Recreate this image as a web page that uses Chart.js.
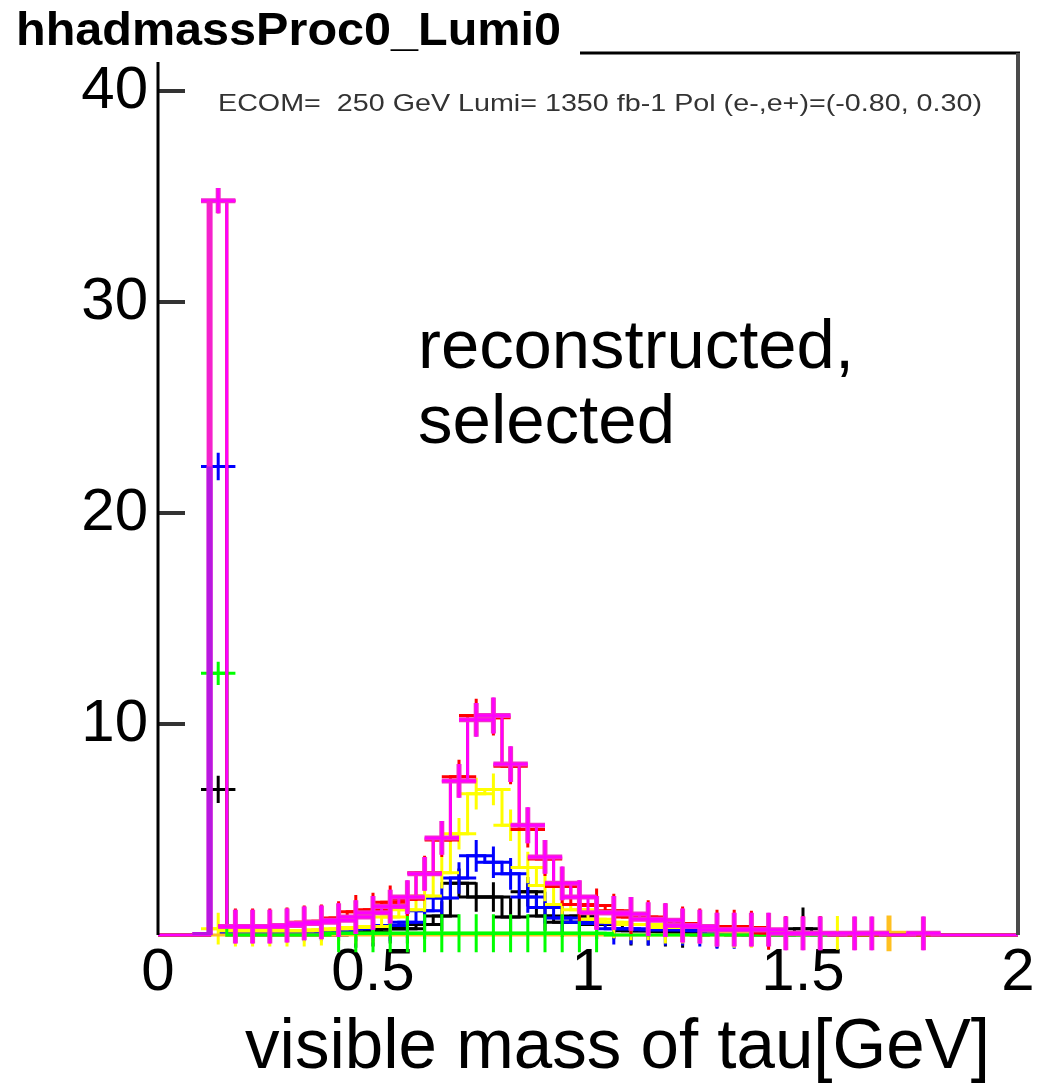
<!DOCTYPE html>
<html><head><meta charset="utf-8">
<script src="https://cdn.jsdelivr.net/npm/chart.js@4"></script>
<style>html,body{margin:0;padding:0;background:#fff}#wrap{position:relative;width:1043px;height:1085px}</style>
</head><body><div id="wrap"><canvas id="c" width="1043" height="1085"></canvas></div>
<script>
// ---------- data ----------
const binCenters = [0.02,0.06,0.10,0.14,0.18,0.22,0.26,0.30,0.34,0.38,
  0.42,0.46,0.50,0.54,0.58,0.62,0.66,0.70,0.74,0.78,
  0.82,0.86,0.90,0.94,0.98,1.02,1.06,1.10,1.14,1.18,
  1.22,1.26,1.30,1.34,1.38,1.42,1.46,1.50,1.54,1.58,
  1.62,1.66,1.70,1.74,1.78,1.82,1.86,1.90,1.94,1.98];
const binWidth = 0.04;
const xTickValues = [0, 0.5, 1, 1.5, 2];
const xTickLabels = ['0', '0.5', '1', '1.5', '2'];
const yTickValues = [10, 20, 30, 40];
const yTickLabels = ['10', '20', '30', '40'];

const magentaVals = [0,0,0,34.8,0.4,0.4,0.4,0.45,0.55,0.6,
  0.7,0.85,1.05,1.35,1.8,2.9,4.6,7.3,10.2,10.4,
  8.1,5.2,3.7,2.45,1.8,1.05,1.05,1.0,0.75,0.7,
  0.45,0.4,0.25,0.25,0.25,0.25,0.08,0.08,0.08,0,
  0.08,0.08,0,0,0.08,0,0,0,0,0];
const magentaErrs = [0,0,0,0.6,0.8,0.8,0.8,0.8,0.8,0.8,
  0.8,0.8,0.8,0.8,0.8,0.8,0.8,0.8,0.8,0.85,
  0.85,0.85,0.8,0.8,0.8,0.8,0.8,0.8,0.8,0.8,
  0.8,0.8,0.8,0.8,0.8,0.8,0.8,0.8,0.8,0,
  0.8,0.8,0,0,0.8,0,0,0,0,0];

const pinkVals = [0,0,0,34.8,0,0,0,0,0,0,
  0,0,0,0,0,0,0,0,0,0,
  0,0,0,0,0,0,0,0,0,0,
  0,0,0,0,0,0,0,0,0,0,
  0,0,0,0,0,0,0,0,0,0];
const violetVals = [0,0,0,22.2,0,0,0,0,0,0,
  0,0,0,0,0,0,0,0,0,0,
  0,0,0,0,0,0,0,0,0,0,
  0,0,0,0,0,0,0,0,0,0,
  0,0,0,0,0,0,0,0,0,0];

const redVals = [0,0,0,34.8,0.45,0.45,0.45,0.5,0.6,0.65,
  0.8,1.1,1.2,1.55,1.7,2.95,4.5,7.5,10.4,10.3,
  8.0,5.0,3.6,2.3,1.45,1.4,1.15,0.85,0.85,0.7,
  0.55,0.45,0.4,0.4,0.35,0.1,0.1,0.1,0.1,0,
  0,0,0,0,0,0,0,0,0,0];
const redErrs = [0,0,0,0.6,0.8,0.8,0.8,0.8,0.8,0.8,
  0.8,0.8,0.8,0.8,0.8,0.8,0.8,0.8,0.8,0.85,
  0.85,0.85,0.8,0.8,0.8,0.8,0.8,0.8,0.8,0.8,
  0.8,0.8,0.8,0.8,0.8,0.8,0.8,0.8,0.8,0,
  0,0,0,0,0,0,0,0,0,0];

const yellowVals = [0,0,0,0.3,0.2,0.2,0.2,0.2,0.2,0.25,
  0.3,0.35,0.4,0.85,1.2,1.85,2.95,4.8,6.7,6.9,
  5.2,3.2,2.35,1.45,1.2,0.75,0.6,0.5,0.5,0.35,
  0.35,0.35,0.2,0.15,0.15,0.1,0.1,0.1,0.1,0.1,
  0,0,0,0,0,0,0,0,0,0];
const yellowErrs = [0,0,0,0.75,0.75,0.75,0.75,0.75,0.75,0.75,
  0.75,0.75,0.75,0.75,0.75,0.75,0.75,0.75,0.75,0.75,
  0.75,0.75,0.75,0.75,0.75,0.75,0.75,0.75,0.75,0.75,
  0.75,0.75,0.75,0.75,0.75,0.75,0.75,0.75,0.75,0.8,
  0,0,0,0,0,0,0,0,0,0];

const blueVals = [0,0,0,22.2,0.1,0.1,0.1,0.1,0.1,0.15,
  0.2,0.3,0.4,0.45,0.6,1.15,1.75,2.7,3.75,3.45,
  2.9,1.8,1.3,0.8,0.6,0.55,0.3,0.3,0.25,0.25,
  0.25,0.2,0.1,0.1,0,0,0,0,0,0,
  0,0,0,0,0,0,0,0,0,0];
const blueErrs = [0,0,0,0.65,0.4,0.4,0.4,0.4,0.4,0.45,
  0.5,0.6,0.7,0.75,0.75,0.75,0.75,0.75,0.75,0.75,
  0.75,0.75,0.75,0.75,0.75,0.75,0.75,0.75,0.75,0.75,
  0.75,0.75,0.75,0.75,0,0,0,0,0,0,
  0,0,0,0,0,0,0,0,0,0];

const blackVals = [0,0,0,6.9,0,0,0,0,0,0,
  0,0.1,0.15,0.3,0.3,0.5,0.9,2.45,1.8,1.8,
  0.85,2.05,0.9,0.6,0.9,0.5,0.5,0.2,0.2,0.15,
  0.1,0,0.1,0,0,0,0,0.3,0,0,
  0,0,0,0,0,0,0,0,0,0];
const blackErrs = [0,0,0,0.65,0,0,0,0,0,0,
  0,0.7,0.7,0.7,0.7,0.7,0.7,0.7,0.7,0.7,
  0.9,0.7,0.7,0.7,0.7,0.7,0.7,0.7,0.7,0.7,
  0.7,0,0.7,0,0,0,0,1.0,0,0,
  0,0,0,0,0,0,0,0,0,0];

const greenVals = [0,0,0,12.4,0,0,0,0,0,0,
  0.08,0.08,0.08,0.08,0.08,0.08,0.08,0.08,0.08,0.08,
  0.08,0.08,0.08,0.08,0.08,0.08,0,0,0,0,
  0,0,0,0,0,0,0,0,0,0,
  0,0,0,0,0,0,0,0,0,0];
const greenErrs = [0,0,0,0.55,0,0,0,0,0,0,
  0.9,0.9,0.9,0.9,0.9,0.9,0.9,0.9,0.9,0.9,
  0.9,0.9,0.9,0.9,0.9,0.9,0,0,0,0,
  0,0,0,0,0,0,0,0,0,0,
  0,0,0,0,0,0,0,0,0,0];

const orangeVals = [0,0,0,0,0,0,0,0,0,0,
  0,0,0,0,0,0,0,0,0,0,
  0,0,0,0,0,0,0,0,0,0,
  0,0,0,0,0,0,0,0,0,0,
  0,0,0.08,0,0,0,0,0,0,0];
const orangeErrs = [0,0,0,0,0,0,0,0,0,0,
  0,0,0,0,0,0,0,0,0,0,
  0,0,0,0,0,0,0,0,0,0,
  0,0,0,0,0,0,0,0,0,0,
  0,0,0.85,0,0,0,0,0,0,0];

// ---------- build ----------
function histPoints(vals) {
  const pts = binCenters.map((c, i) => ({ x: c - binWidth / 2, y: vals[i] }));
  pts.push({ x: binCenters[binCenters.length - 1] + binWidth / 2, y: vals[vals.length - 1] });
  return pts;
}
function histDataset(label, vals, errs, color, lw, errLayers) {
  return {
    label, data: histPoints(vals), vals, errs, errLayers,
    borderColor: color, borderWidth: lw, stepped: 'before', fill: false,
    pointRadius: 0, tension: 0, clip: { left: 0, top: 0, right: 0, bottom: 3 }
  };
}
// rising edges only (thick blended edge of the tall bin)
function edgeDataset(label, vals, color, lw) {
  return {
    label, data: histPoints(vals),
    borderColor: color, borderWidth: lw, stepped: 'before', fill: false,
    pointRadius: 0, tension: 0, borderCapStyle: 'butt',
    segment: { borderColor: c => (c.p1.parsed.y > c.p0.parsed.y ? color : 'rgba(0,0,0,0)') }
  };
}
// index 0 is drawn on top
const datasets = [
  edgeDataset('violet', violetVals, '#b818e0', 6),
  edgeDataset('pink', pinkVals, '#f522cc', 6),
  histDataset('magenta', magentaVals, magentaErrs, '#ff00ff', 3, [['#f22ccb', 5], ['#ff00ff', 2.5]]),
  histDataset('red', redVals, redErrs, '#ff0000', 3, [['#ff0000', 3]]),
  histDataset('green', greenVals, greenErrs, '#00ff00', 3, [['#00ff00', 3]]),
  histDataset('orange', orangeVals, orangeErrs, '#ffc020', 3, [['#ffc020', 5]]),
  histDataset('yellow', yellowVals, yellowErrs, '#ffff00', 3, [['#ffff00', 3]]),
  histDataset('blue', blueVals, blueErrs, '#0000ff', 3, [['#0000ff', 3]]),
  histDataset('black', blackVals, blackErrs, '#000000', 3, [['#000000', 3]])
];

const errPlugin = {
  id: 'errbars',
  afterDatasetDraw(chart, args) {
    const ds = chart.data.datasets[args.index];
    if (!ds.errs) return;
    const xs = chart.scales.x, ys = chart.scales.y, ctx = chart.ctx;
    ctx.save();
    ctx.lineCap = 'butt';
    ds.errLayers.forEach(([col, w]) => {
      ctx.strokeStyle = col; ctx.lineWidth = w;
      ds.vals.forEach((v, i) => {
        const e = ds.errs[i];
        if (!(v > 0) && !(e > 0)) return;
        const cx = xs.getPixelForValue(binCenters[i]);
        const xl = xs.getPixelForValue(binCenters[i] - binWidth);
        const xr = xs.getPixelForValue(binCenters[i] + binWidth);
        const yv = ys.getPixelForValue(v);
        const ylo = ys.getPixelForValue(v - e), yhi = ys.getPixelForValue(v + e);
        ctx.beginPath();
        ctx.moveTo(xl, yv); ctx.lineTo(xr, yv);
        ctx.moveTo(cx, ylo); ctx.lineTo(cx, yhi);
        ctx.stroke();
      });
    });
    ctx.restore();
  }
};

function fitText(ctx, text, x, y, font, targetW, color) {
  ctx.save();
  ctx.font = font;
  ctx.fillStyle = color || '#000';
  ctx.textBaseline = 'alphabetic';
  ctx.textAlign = 'left';
  const w = ctx.measureText(text).width;
  const s = targetW ? targetW / w : 1;
  ctx.translate(x, y);
  ctx.scale(s, 1);
  ctx.fillText(text, 0, 0);
  ctx.restore();
}

const framePlugin = {
  id: 'frame',
  beforeDatasetsDraw(chart) {
    const ctx = chart.ctx, a = chart.chartArea, ys = chart.scales.y;
    ctx.save();
    ctx.strokeStyle = '#333'; ctx.lineWidth = 4;
    yTickValues.forEach(v => {
      const y = ys.getPixelForValue(v);
      ctx.beginPath(); ctx.moveTo(a.left, y); ctx.lineTo(a.left + 27, y); ctx.stroke();
    });
    ctx.restore();
  },
  afterDraw(chart) {
    const ctx = chart.ctx, a = chart.chartArea;
    ctx.save();
    ctx.strokeStyle = '#000'; ctx.lineWidth = 3;
    ctx.beginPath(); ctx.moveTo(a.left, a.top + 9); ctx.lineTo(a.left, a.bottom); ctx.stroke();
    ctx.beginPath(); ctx.moveTo(580, a.top); ctx.lineTo(a.right + 2, a.top); ctx.stroke();
    ctx.strokeStyle = '#4a4a4a'; ctx.lineWidth = 4;
    ctx.beginPath(); ctx.moveTo(a.right, a.top); ctx.lineTo(a.right, a.bottom); ctx.stroke();
    ctx.restore();
    fitText(ctx, 'hhadmassProc0_Lumi0', 16, 45, 'bold 47px "Liberation Sans", Arial, sans-serif', 545, '#000');
    fitText(ctx, 'ECOM=  250 GeV Lumi= 1350 fb-1 Pol (e-,e+)=(-0.80, 0.30)', 218, 111, '24px "Liberation Sans", Arial, sans-serif', 764, '#333');
    fitText(ctx, 'reconstructed,', 418, 368, '68px "Liberation Sans", Arial, sans-serif', 436, '#000');
    fitText(ctx, 'selected', 418, 443, '68px "Liberation Sans", Arial, sans-serif', 257, '#000');
    fitText(ctx, 'visible mass of tau[GeV]', 245, 1068, '70px "Liberation Sans", Arial, sans-serif', 745, '#000');
  }
};

new Chart(document.getElementById('c'), {
  type: 'line',
  data: { datasets },
  options: {
    responsive: false,
    animation: false,
    events: [],
    layout: { padding: { top: 53, right: 25, left: 0, bottom: 0 } },
    plugins: { legend: { display: false }, tooltip: { enabled: false }, title: { display: false } },
    scales: {
      x: {
        type: 'linear', min: 0, max: 2,
        grid: { display: false, drawTicks: false },
        border: { display: false },
        afterBuildTicks: s => { s.ticks = xTickValues.map(v => ({ value: v })); },
        afterFit: s => { s.height = 150; },
        ticks: {
          padding: 2, maxRotation: 0, autoSkip: false,
          color: '#000', font: { family: '"Liberation Sans", Arial, sans-serif', size: 60 },
          callback: (v, i) => xTickLabels[i]
        }
      },
      y: {
        type: 'linear', min: 0, max: 41.8,
        grid: { display: false, drawTicks: false },
        border: { display: false },
        afterBuildTicks: s => { s.ticks = yTickValues.map(v => ({ value: v })); },
        afterFit: s => { s.width = 158; },
        ticks: {
          padding: 10, autoSkip: false,
          color: '#000', font: { family: '"Liberation Sans", Arial, sans-serif', size: 60 },
          callback: (v, i) => yTickLabels[i]
        }
      }
    }
  },
  plugins: [errPlugin, framePlugin]
});
</script></body></html>
